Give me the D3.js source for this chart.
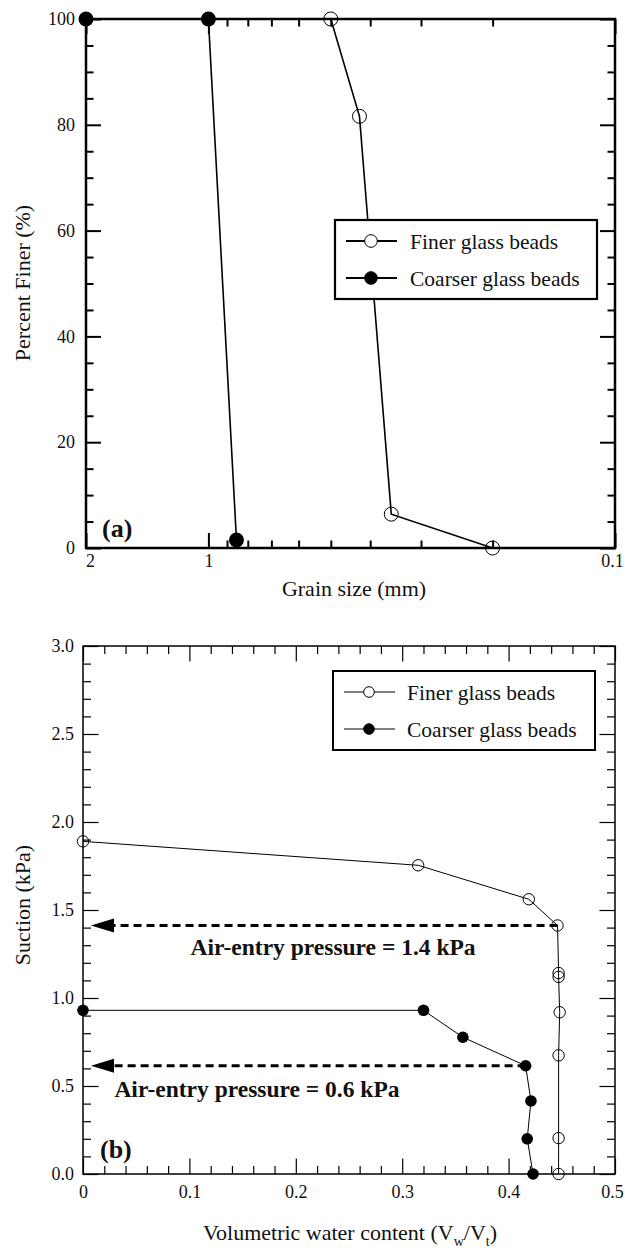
<!DOCTYPE html>
<html>
<head>
<meta charset="utf-8">
<script src="https://cdn.jsdelivr.net/npm/d3@7"></script>
<style>
  body { margin: 0; background: #fff; }
  svg { display: block; }
  svg text { font-family: "Liberation Serif", "Times New Roman", "DejaVu Serif", serif; fill: #111; }
</style>
</head>
<body>
<svg id="vis" width="625" height="1248"></svg>
<script>
// (a) grain size distribution
var finerSize = [0.5, 0.425, 0.355, 0.2];
var finerPct = [100, 81.6, 6.4, 0];
var coarseSize = [2, 1, 0.853];
var coarsePct = [100, 100, 1.5];
var sizeTicks = [2, 1, 0.1];
var sizeMinor = [0.9, 0.8, 0.7, 0.6, 0.5, 0.4, 0.3, 0.2];
var pctTicks = [0, 20, 40, 60, 80, 100];

// (b) soil-water characteristic curve
var finerTheta = [0, 0.315, 0.419, 0.446, 0.447, 0.447, 0.448, 0.447, 0.447, 0.447];
var finerSuction = [1.89, 1.754, 1.561, 1.412, 1.142, 1.12, 0.919, 0.674, 0.204, 0];
var coarseTheta = [0, 0.32, 0.357, 0.416, 0.421, 0.4175, 0.423];
var coarseSuction = [0.93, 0.93, 0.777, 0.615, 0.415, 0.2, 0];
var airEntry = [1.412, 0.615];
var airEntryTheta = [0.446, 0.416];
var airEntryLabels = ["Air-entry pressure = 1.4 kPa", "Air-entry pressure = 0.6 kPa"];
var thetaTicks = [0, 0.1, 0.2, 0.3, 0.4, 0.5];
var suctionTicks = [0, 0.5, 1, 1.5, 2, 2.5, 3];

var seriesNames = ["Finer glass beads", "Coarser glass beads"];

var svg = d3.select("#vis");

function zip(xs, ys) {
    return xs.map(function(x, i) { return [x, ys[i]]; });
}

// inward ticks on all four sides
function frameTicks(g, x, y, left, right, top, bottom, opt) {
    // bottom labelled major
    var bx = g.append("g").attr("transform", "translate(0," + bottom + ")")
        .call(d3.axisBottom(x).tickValues(opt.xMajor).tickSize(-opt.major).tickPadding(opt.padX).tickFormat(opt.xFmt))
        .call(style);
    // keep the end labels inside the page
    var n = opt.xMajor.length;
    bx.selectAll("text").attr("dx", function(d, i) {
        return i === 0 ? opt.firstDx : (i === n - 1 ? -3 : 0);
    });
    g.append("g").attr("transform", "translate(0," + bottom + ")")
        .call(d3.axisBottom(x).tickValues(opt.xMinor).tickSize(-opt.minor).tickFormat(""))
        .call(style);
    g.append("g").attr("transform", "translate(0," + top + ")")
        .call(d3.axisTop(x).tickValues(opt.xMajor).tickSize(-opt.major).tickFormat(""))
        .call(style);
    g.append("g").attr("transform", "translate(0," + top + ")")
        .call(d3.axisTop(x).tickValues(opt.xMinor).tickSize(-opt.minor).tickFormat(""))
        .call(style);
    g.append("g").attr("transform", "translate(" + left + ",0)")
        .call(d3.axisLeft(y).tickValues(opt.yMajor).tickSize(-opt.major).tickPadding(opt.padY).tickFormat(opt.yFmt))
        .call(style);
    g.append("g").attr("transform", "translate(" + left + ",0)")
        .call(d3.axisLeft(y).tickValues(opt.yMinor).tickSize(-opt.minor).tickFormat(""))
        .call(style);
    g.append("g").attr("transform", "translate(" + right + ",0)")
        .call(d3.axisRight(y).tickValues(opt.yMajor).tickSize(-opt.major).tickFormat(""))
        .call(style);
    g.append("g").attr("transform", "translate(" + right + ",0)")
        .call(d3.axisRight(y).tickValues(opt.yMinor).tickSize(-opt.minor).tickFormat(""))
        .call(style);

    function style(a) {
        a.attr("font-family", null).attr("font-size", null);
        a.select(".domain").remove();
        a.selectAll("line").attr("stroke", "#000").attr("stroke-width", opt.tickW);
        a.selectAll("text").attr("font-size", "18px").attr("fill", "#111");
    }
}

function legend(g, x0, y0, w, h, r, lineW, frameW, textX) {
    g.append("rect").attr("x", x0).attr("y", y0).attr("width", w).attr("height", h)
        .attr("fill", "#fff").attr("stroke", "#000").attr("stroke-width", frameW);
    seriesNames.forEach(function(name, i) {
        var cy = y0 + 21 + i * 37;
        g.append("line").attr("x1", x0 + 11).attr("x2", x0 + 62).attr("y1", cy).attr("y2", cy)
            .attr("stroke", "#000").attr("stroke-width", lineW);
        g.append("circle").attr("cx", x0 + 36).attr("cy", cy).attr("r", r)
            .attr("fill", i === 0 ? "#fff" : "#000").attr("stroke", "#000").attr("stroke-width", 1);
        g.append("text").attr("x", x0 + textX).attr("y", cy + 7.5).text(name)
            .attr("font-size", "21.5px");
    });
}

// ---------- chart (a) ----------
var A = { left: 86, right: 615, top: 19, bottom: 548 };
var xA = d3.scaleLog().domain([2, 0.1]).range([A.left, A.right]);
var yA = d3.scaleLinear().domain([0, 100]).range([A.bottom, A.top]);
var gA = svg.append("g");

var pctMinor = d3.range(0, 101, 5).filter(function(d) { return d % 20 !== 0; });
frameTicks(gA, xA, yA, A.left, A.right, A.top, A.bottom, {
    xMajor: sizeTicks, xMinor: sizeMinor, yMajor: pctTicks, yMinor: pctMinor,
    major: 15, minor: 7.5, tickW: 2, padX: 6, padY: 11, firstDx: 4,
    xFmt: function(d) { return d3.format("")(d); }, yFmt: d3.format("d")
});

var lineA = d3.line().x(function(d) { return xA(d[0]); }).y(function(d) { return yA(d[1]); });
gA.append("path").datum(zip(finerSize, finerPct)).attr("d", lineA)
    .attr("fill", "none").attr("stroke", "#000").attr("stroke-width", 1.6);
gA.append("path").datum(zip(coarseSize, coarsePct)).attr("d", lineA)
    .attr("fill", "none").attr("stroke", "#000").attr("stroke-width", 1.6);

gA.append("rect").attr("x", A.left).attr("y", A.top)
    .attr("width", A.right - A.left).attr("height", A.bottom - A.top)
    .attr("fill", "none").attr("stroke", "#000").attr("stroke-width", 2.5);

gA.selectAll(".fa").data(zip(finerSize, finerPct)).enter().append("circle")
    .attr("cx", function(d) { return xA(d[0]); }).attr("cy", function(d) { return yA(d[1]); })
    .attr("r", 7).attr("fill", "none").attr("stroke", "#000").attr("stroke-width", 1);
gA.selectAll(".ca").data(zip(coarseSize, coarsePct)).enter().append("circle")
    .attr("cx", function(d) { return xA(d[0]); }).attr("cy", function(d) { return yA(d[1]); })
    .attr("r", 7.5).attr("fill", "#000");

legend(gA, 335, 220, 262, 79, 6.3, 2, 2.2, 75);

gA.append("text").attr("x", 102).attr("y", 537).text("(a)")
    .attr("font-size", "26px").attr("font-weight", "bold");
gA.append("text").attr("x", 354).attr("y", 596).attr("text-anchor", "middle")
    .text("Grain size (mm)").attr("font-size", "22px");
gA.append("text").attr("transform", "translate(30,283) rotate(-90)").attr("text-anchor", "middle")
    .text("Percent Finer (%)").attr("font-size", "22px");

// ---------- chart (b) ----------
var B = { left: 83, right: 615, top: 646, bottom: 1174 };
var xB = d3.scaleLinear().domain([0, 0.5]).range([B.left, B.right]);
var yB = d3.scaleLinear().domain([0, 3]).range([B.bottom, B.top]);
var gB = svg.append("g");

var thetaMinor = d3.range(0, 51, 2).filter(function(d) { return d % 10 !== 0; }).map(function(d) { return d / 100; });
var suctionMinor = d3.range(0, 31).filter(function(d) { return d % 5 !== 0; }).map(function(d) { return d / 10; });
frameTicks(gB, xB, yB, B.left, B.right, B.top, B.bottom, {
    xMajor: thetaTicks, xMinor: thetaMinor, yMajor: suctionTicks, yMinor: suctionMinor,
    major: 15.5, minor: 8, tickW: 1.2, padX: 11, padY: 9, firstDx: 0,
    xFmt: function(d) { return d === 0 ? "0" : d3.format(".1f")(d); }, yFmt: d3.format(".1f")
});

var lineB = d3.line().x(function(d) { return xB(d[0]); }).y(function(d) { return yB(d[1]); });
gB.append("path").datum(zip(finerTheta, finerSuction)).attr("d", lineB)
    .attr("fill", "none").attr("stroke", "#000").attr("stroke-width", 1);
gB.append("path").datum(zip(coarseTheta, coarseSuction)).attr("d", lineB)
    .attr("fill", "none").attr("stroke", "#000").attr("stroke-width", 1);

gB.append("rect").attr("x", B.left).attr("y", B.top)
    .attr("width", B.right - B.left).attr("height", B.bottom - B.top)
    .attr("fill", "none").attr("stroke", "#000").attr("stroke-width", 1.5);

// dashed arrows for air-entry pressure
airEntry.forEach(function(s, i) {
    gB.append("line").attr("x1", xB(airEntryTheta[i])).attr("x2", xB(0.02))
        .attr("y1", yB(s)).attr("y2", yB(s))
        .attr("stroke", "#000").attr("stroke-width", 3).attr("stroke-dasharray", "8,5");
    gB.append("path")
        .attr("d", "M" + xB(0.0075) + "," + yB(s) + " l23,-7 l0,14 Z")
        .attr("fill", "#000");
});
gB.append("text").attr("x", xB(0.235)).attr("y", yB(1.246)).attr("text-anchor", "middle")
    .text(airEntryLabels[0]).attr("font-size", "23.5px").attr("font-weight", "bold");
gB.append("text").attr("x", xB(0.1635)).attr("y", yB(0.438)).attr("text-anchor", "middle")
    .text(airEntryLabels[1]).attr("font-size", "23.5px").attr("font-weight", "bold");

gB.selectAll(".fb").data(zip(finerTheta, finerSuction)).enter().append("circle")
    .attr("cx", function(d) { return xB(d[0]); }).attr("cy", function(d) { return yB(d[1]); })
    .attr("r", 5.7).attr("fill", "none").attr("stroke", "#000").attr("stroke-width", 1);
gB.selectAll(".cb").data(zip(coarseTheta, coarseSuction)).enter().append("circle")
    .attr("cx", function(d) { return xB(d[0]); }).attr("cy", function(d) { return yB(d[1]); })
    .attr("r", 5.8).attr("fill", "#000");

legend(gB, 333, 671, 262, 79, 5.3, 1, 2, 74);

gB.append("text").attr("x", 100).attr("y", 1158).text("(b)")
    .attr("font-size", "26px").attr("font-weight", "bold");
var xt = gB.append("text").attr("x", 350).attr("y", 1240).attr("text-anchor", "middle")
    .attr("font-size", "22px");
xt.append("tspan").text("Volumetric water content (V");
xt.append("tspan").text("w").attr("font-size", "14px").attr("dy", 6);
xt.append("tspan").text("/V").attr("dy", -6);
xt.append("tspan").text("t").attr("font-size", "14px").attr("dy", 6);
xt.append("tspan").text(")").attr("dy", -6);
gB.append("text").attr("transform", "translate(30,905) rotate(-90)").attr("text-anchor", "middle")
    .text("Suction (kPa)").attr("font-size", "22px");
</script>
</body>
</html>
